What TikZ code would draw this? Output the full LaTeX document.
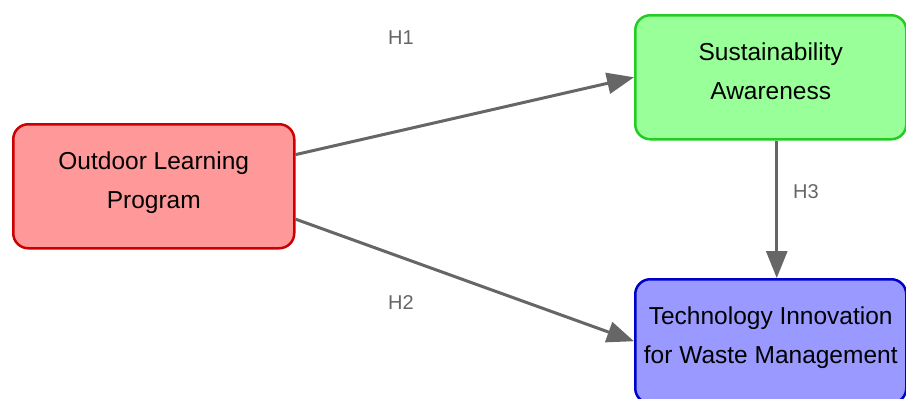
\documentclass[tikz,border=0pt]{standalone}
\usepackage{fontspec}
\setmainfont{Liberation Sans}
\usetikzlibrary{arrows.meta,calc}
\definecolor{redfill}{HTML}{FF9999}
\definecolor{redline}{HTML}{CC0000}
\definecolor{greenfill}{HTML}{99FF99}
\definecolor{greenline}{HTML}{22CC22}
\definecolor{bluefill}{HTML}{9999FF}
\definecolor{blueline}{HTML}{0000CC}
\definecolor{edgegray}{HTML}{666666}
\newcommand{\lowstrut}{\rule[-12pt]{0pt}{0pt}}
\tikzset{
  box/.style={rectangle, rounded corners=15pt, line width=2.5pt, anchor=north west,
    minimum height=124pt, align=center, text=black,
    font=\fontsize{24.5}{39}\selectfont},
  conn/.style={draw=edgegray, line width=3pt, -{Triangle[length=27pt,width=21pt]}},
  hlabel/.style={text=edgegray, font=\fontsize{20}{24}\selectfont},
}
\begin{document}
\begin{tikzpicture}[x=1pt,y=-1pt]
\clip (0,0) rectangle (906,399);
\fill[white] (0,0) rectangle (906,399);
\node[box, fill=redfill, draw=redline, minimum width=281pt] (olp) at (12,123) {Outdoor Learning\\Program\lowstrut};
\node[box, fill=greenfill, draw=greenline, minimum width=271pt] (sa) at (634,14) {Sustainability\\Awareness\lowstrut};
\node[box, fill=bluefill, draw=blueline, minimum width=271pt] (ti) at (634,278) {Technology Innovation\\for Waste Management\lowstrut};
\draw[conn] ($(olp.north east)!0.25!(olp.south east)$) -- (sa.west);
\draw[conn] ($(olp.north east)!0.76!(olp.south east)$) -- (ti.west);
\draw[conn] ($(sa.south)+(6,0)$) -- ($(ti.north)+(6,0)$);
\node[hlabel] (h1) at (401,38) {H1};
\node[hlabel] (h2) at (401,303) {H2};
\node[hlabel] (h3) at (806,192) {H3};
\end{tikzpicture}
\end{document}
